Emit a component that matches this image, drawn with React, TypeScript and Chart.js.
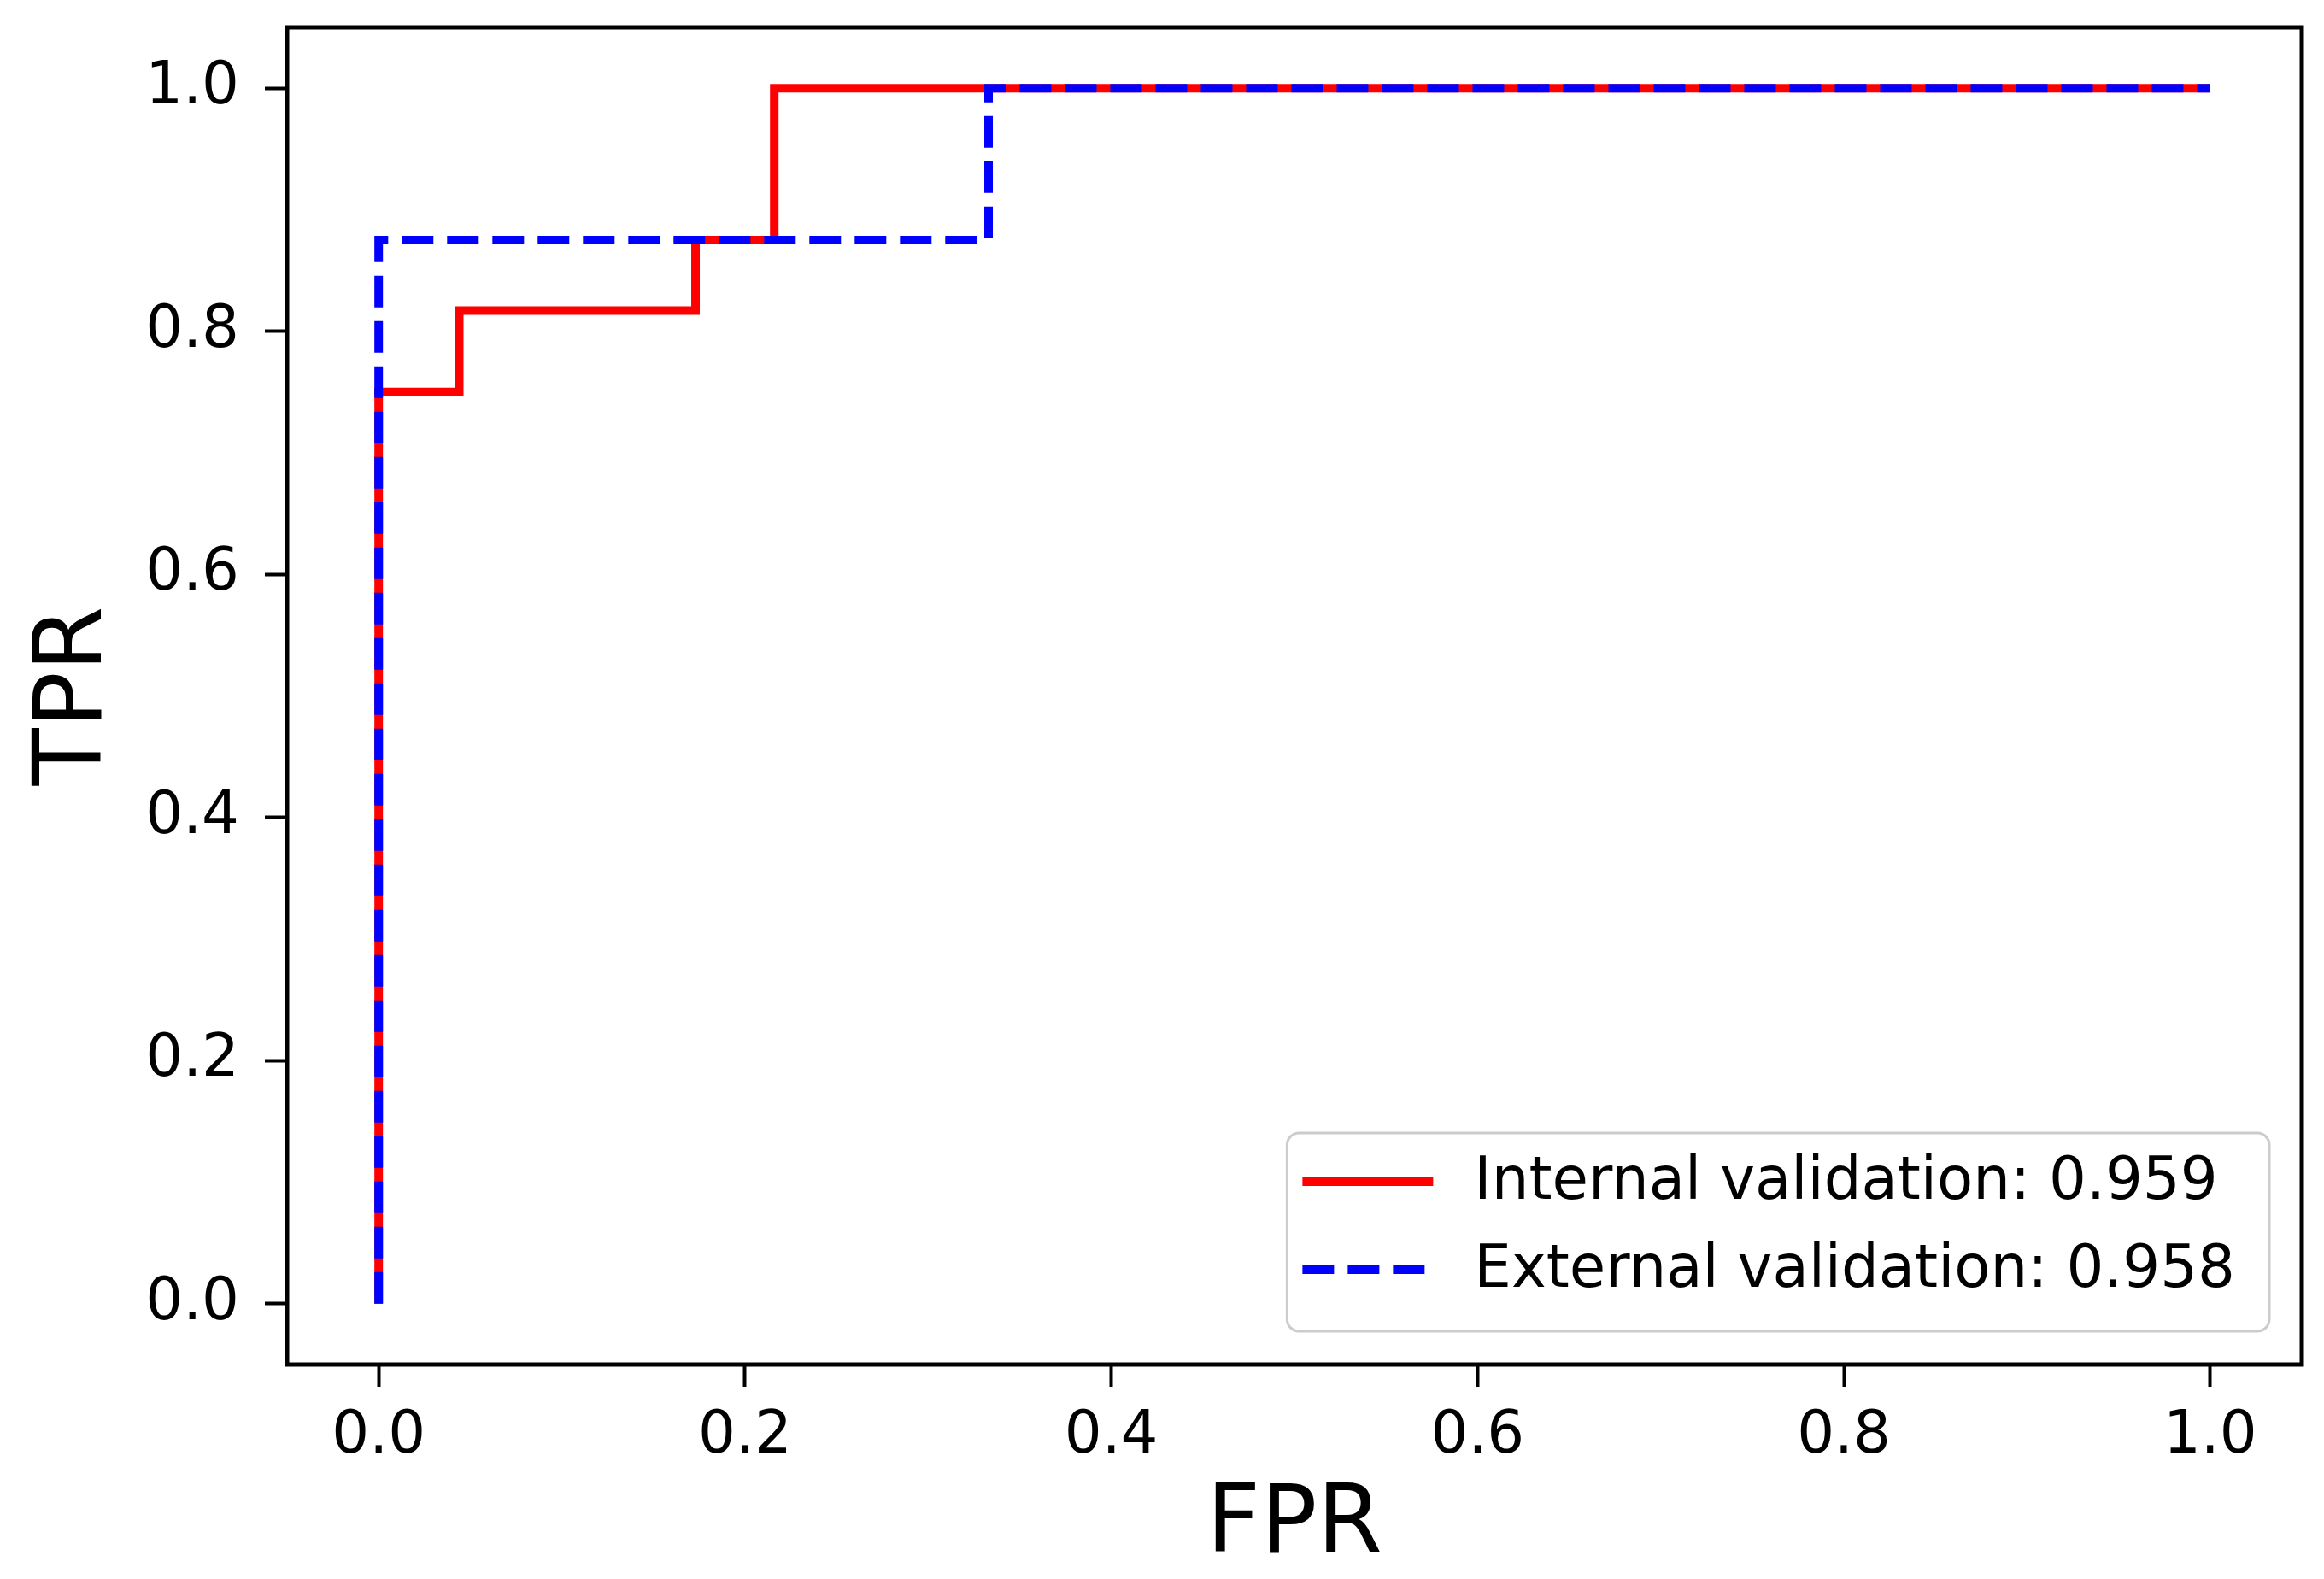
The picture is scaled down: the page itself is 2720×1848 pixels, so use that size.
import React, { useEffect, useRef } from 'react';
import { Chart, registerables } from 'chart.js';

Chart.register(...registerables);

// ROC curve points (step curves)
const internalFpr = [0, 0, 0.044, 0.044, 0.173, 0.173, 0.216, 0.216, 1.0];
const internalTpr = [0, 0.75, 0.75, 0.817, 0.817, 0.875, 0.875, 1.0, 1.0];
const externalFpr = [0, 0, 0.333, 0.333, 1.0];
const externalTpr = [0, 0.875, 0.875, 1.0, 1.0];

const internalLabel = 'Internal validation: 0.959';
const externalLabel = 'External validation: 0.958';

const xTickValues = [0, 0.2, 0.4, 0.6, 0.8, 1.0];
const yTickValues = [0, 0.2, 0.4, 0.6, 0.8, 1.0];
const xTitle = 'FPR';
const yTitle = 'TPR';

const FONT = "'DejaVu Sans', 'Liberation Sans', sans-serif";

const framePlugin = {
  id: 'frame',
  afterDatasetsDraw(chart: any) {
    const { ctx, chartArea } = chart;
    ctx.save();
    ctx.strokeStyle = '#000';
    ctx.lineWidth = 5;
    ctx.strokeRect(chartArea.left, chartArea.top, chartArea.right - chartArea.left, chartArea.bottom - chartArea.top);
    ctx.restore();
  },
};

const legendPlugin = {
  id: 'insideLegend',
  afterDraw(chart: any) {
    const { ctx, chartArea } = chart;
    const ds = chart.data.datasets;
    ctx.save();
    ctx.font = `69px ${FONT}`;
    const padL = 18;
    const sampleLen = 153;
    const gap = 48;
    const padR = 40;
    const textW = Math.max(...ds.map((d: any) => ctx.measureText(d.label).width));
    const w = padL + sampleLen + gap + textW + padR;
    const h = 232;
    const right = chartArea.right - 38;
    const bottom = chartArea.bottom - 39;
    const left = right - w;
    const top = bottom - h;
    const r = 14;
    ctx.beginPath();
    ctx.moveTo(left + r, top);
    ctx.lineTo(right - r, top);
    ctx.arcTo(right, top, right, top + r, r);
    ctx.lineTo(right, bottom - r);
    ctx.arcTo(right, bottom, right - r, bottom, r);
    ctx.lineTo(left + r, bottom);
    ctx.arcTo(left, bottom, left, bottom - r, r);
    ctx.lineTo(left, top + r);
    ctx.arcTo(left, top, left + r, top, r);
    ctx.closePath();
    ctx.fillStyle = 'rgba(255,255,255,0.8)';
    ctx.fill();
    ctx.strokeStyle = '#cccccc';
    ctx.lineWidth = 3;
    ctx.stroke();

    const rows = [top + 57, top + 160];
    ds.forEach((d: any, i: number) => {
      const y = rows[i];
      ctx.beginPath();
      ctx.strokeStyle = d.borderColor;
      ctx.lineWidth = d.borderWidth;
      ctx.lineCap = 'butt';
      ctx.setLineDash(d.borderDash || []);
      ctx.moveTo(left + padL, y);
      ctx.lineTo(left + padL + sampleLen, y);
      ctx.stroke();
      ctx.setLineDash([]);
      ctx.fillStyle = '#000';
      ctx.textAlign = 'left';
      ctx.textBaseline = 'middle';
      ctx.fillText(d.label, left + padL + sampleLen + gap, y + 2);
    });
    ctx.restore();
  },
};

export default function App() {
  const canvasRef = useRef<HTMLCanvasElement | null>(null);

  useEffect(() => {
    const canvas = canvasRef.current;
    if (!canvas) return;
    const chart = new Chart(canvas, {
      type: 'line',
      data: {
        datasets: [
          {
            label: internalLabel,
            data: internalFpr.map((x, i) => ({ x, y: internalTpr[i] })),
            borderColor: '#ff0000',
            backgroundColor: '#ff0000',
            borderWidth: 10,
            pointRadius: 0,
            tension: 0,
            fill: false,
            borderCapStyle: 'butt',
            borderJoinStyle: 'miter',
            order: 2,
          },
          {
            label: externalLabel,
            data: externalFpr.map((x, i) => ({ x, y: externalTpr[i] })),
            borderColor: '#0000ff',
            backgroundColor: '#0000ff',
            borderWidth: 10,
            borderDash: [37, 16],
            pointRadius: 0,
            tension: 0,
            fill: false,
            borderCapStyle: 'butt',
            borderJoinStyle: 'miter',
            order: 1,
          },
        ],
      },
      options: {
        responsive: false,
        animation: false,
        devicePixelRatio: 1,
        layout: { padding: { top: 32, right: 26, left: 0, bottom: 0 } },
        plugins: {
          legend: { display: false },
          tooltip: { enabled: false },
        },
        scales: {
          x: {
            type: 'linear',
            min: -0.05,
            max: 1.05,
            afterBuildTicks: (scale: any) => {
              scale.ticks = xTickValues.map((v) => ({ value: v }));
            },
            afterFit: (scale: any) => {
              scale.height = 251;
              scale.paddingLeft = 0;
              scale.paddingRight = 0;
            },
            grid: {
              display: true,
              drawOnChartArea: false,
              drawTicks: true,
              tickLength: 26,
              tickWidth: 4,
              tickColor: '#000',
            },
            border: { display: false },
            ticks: {
              color: '#000',
              font: { family: FONT, size: 69 },
              padding: 18,
              maxRotation: 0,
              autoSkip: false,
              callback: (v: any) => Number(v).toFixed(1),
            },
            title: {
              display: true,
              text: xTitle,
              color: '#000',
              font: { family: FONT, size: 110, lineHeight: 1.1 },
              padding: { top: 0, bottom: 0 },
            },
          },
          y: {
            type: 'linear',
            min: -0.05,
            max: 1.05,
            afterBuildTicks: (scale: any) => {
              scale.ticks = yTickValues.map((v) => ({ value: v }));
            },
            afterFit: (scale: any) => {
              scale.width = 336;
              scale.paddingTop = 0;
              scale.paddingBottom = 0;
            },
            grid: {
              display: true,
              drawOnChartArea: false,
              drawTicks: true,
              tickLength: 26,
              tickWidth: 4,
              tickColor: '#000',
            },
            border: { display: false },
            ticks: {
              color: '#000',
              font: { family: FONT, size: 69 },
              padding: 30,
              autoSkip: false,
              callback: (v: any) => Number(v).toFixed(1),
            },
            title: {
              display: true,
              text: yTitle,
              color: '#000',
              font: { family: FONT, size: 110 },
              padding: { top: 23, bottom: 0 },
            },
          },
        },
      },
      plugins: [framePlugin, legendPlugin],
    } as any);
    return () => chart.destroy();
  }, []);

  return (
    <div style={{ position: 'absolute', left: 0, top: 0, width: 2720, height: 1848, background: '#fff' }}>
      <canvas ref={canvasRef} width={2720} height={1848} style={{ width: 2720, height: 1848, display: 'block' }} />
    </div>
  );
}
